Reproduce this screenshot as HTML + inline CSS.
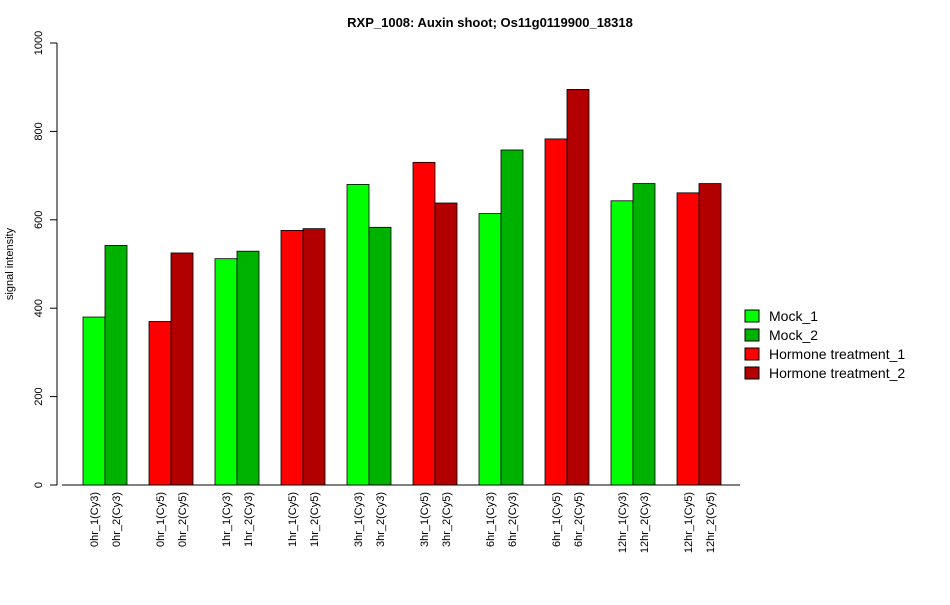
<!DOCTYPE html>
<html><head><meta charset="utf-8"><style>
body{margin:0;background:#fff;}
svg{font-family:"Liberation Sans",Arial,sans-serif;}
</style></head><body>
<svg id="chart" width="950" height="600" viewBox="0 0 950 600">
<text x="490" y="27" text-anchor="middle" font-weight="bold" font-size="13">RXP_1008: Auxin shoot; Os11g0119900_18318</text>
<text transform="translate(13,264) rotate(-90)" text-anchor="middle" font-size="11">signal intensity</text>
<g id="yaxis"></g>
<g id="bars"></g>
<g id="xlabels"></g>
<line x1="62" y1="485" x2="740" y2="485" stroke="#000"/>
<g>
<rect x="745" y="310" width="14" height="12" fill="#00ff00" stroke="#000"/>
<text x="769" y="321" font-size="14">Mock_1</text>
<rect x="745" y="329" width="14" height="12" fill="#00b200" stroke="#000"/>
<text x="769" y="340" font-size="14">Mock_2</text>
<rect x="745" y="348" width="14" height="12" fill="#ff0000" stroke="#000"/>
<text x="769" y="359" font-size="14">Hormone treatment_1</text>
<rect x="745" y="367" width="14" height="12" fill="#b20000" stroke="#000"/>
<text x="769" y="378" font-size="14">Hormone treatment_2</text>
</g>
</svg>
<script>
const categories = ["0hr_1(Cy3)","0hr_2(Cy3)","0hr_1(Cy5)","0hr_2(Cy5)","1hr_1(Cy3)","1hr_2(Cy3)","1hr_1(Cy5)","1hr_2(Cy5)","3hr_1(Cy3)","3hr_2(Cy3)","3hr_1(Cy5)","3hr_2(Cy5)","6hr_1(Cy3)","6hr_2(Cy3)","6hr_1(Cy5)","6hr_2(Cy5)","12hr_1(Cy3)","12hr_2(Cy3)","12hr_1(Cy5)","12hr_2(Cy5)"];
const values = [380,542,370,525,512,529,576,580,680,583,730,638,614,758,783,895,643,682,661,682];
const seriesIdx = [0,1,2,3,0,1,2,3,0,1,2,3,0,1,2,3,0,1,2,3];
const colors = ["#00ff00","#00b200","#ff0000","#b20000"];
const yTicks = [0,200,400,600,800,1000];
const NS="http://www.w3.org/2000/svg";
function y(v){return 485 - v*0.442;}
function xBar(i){return 83 + Math.floor(i/2)*66 + (i%2)*22;}
const ya=document.getElementById('yaxis');
const al=document.createElementNS(NS,'line');
al.setAttribute('x1',57);al.setAttribute('x2',57);al.setAttribute('y1',y(0));al.setAttribute('y2',y(1000));al.setAttribute('stroke','#000');


ya.appendChild(al);
yTicks.forEach(t=>{
 const l=document.createElementNS(NS,'line');
 l.setAttribute('x1',50);l.setAttribute('x2',57);l.setAttribute('y1',y(t));l.setAttribute('y2',y(t));l.setAttribute('stroke','#000');
 
 
 ya.appendChild(l);
 const tx=document.createElementNS(NS,'text');
 tx.setAttribute('transform','translate(42,'+y(t)+') rotate(-90)');
 tx.setAttribute('text-anchor','middle');tx.setAttribute('font-size','11');
 tx.textContent=t;
 
 
 ya.appendChild(tx);
});
const bg=document.getElementById('bars'), xl=document.getElementById('xlabels');
values.forEach((v,i)=>{
 const r=document.createElementNS(NS,'rect');
 r.setAttribute('x',xBar(i));r.setAttribute('width',22);
 r.setAttribute('y',y(v));r.setAttribute('height',y(0)-y(v));
 r.setAttribute('fill',colors[seriesIdx[i]]);r.setAttribute('stroke','#000');r.setAttribute('stroke-width','0.8');
 
 
 bg.appendChild(r);
 const tx=document.createElementNS(NS,'text');
 tx.setAttribute('transform','translate('+(xBar(i)+15)+',492) rotate(-90)');
 tx.setAttribute('text-anchor','end');tx.setAttribute('font-size','11');
 tx.textContent=categories[i];
 
 
 xl.appendChild(tx);
});
</script>
</body></html>
